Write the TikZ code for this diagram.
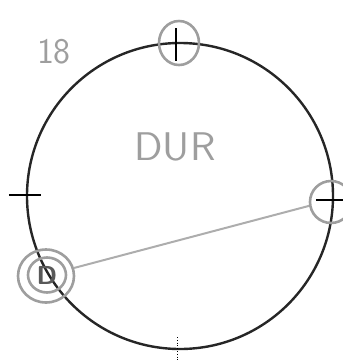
\documentclass[tikz,border=0pt]{standalone}
\usepackage{fontspec}
\usepackage{tikz}
\usetikzlibrary{positioning,shapes.geometric}
\definecolor{pencil}{gray}{0.62}

\begin{document}
\begin{tikzpicture}[x=1pt, y=-1pt,
  dialbox/.style={draw=black!85, circle, line width=2.4pt, minimum size=306pt, inner sep=0pt},
  ring/.style={draw=pencil, line width=2.6pt, ellipse, inner sep=0pt},
  tickmark/.style={line width=1.4pt},
  lbl/.style={text=pencil, font=\sffamily\fontsize{40}{42}\selectfont}]
\useasboundingbox (0,0) rectangle (343,360);
% dial and its four marks
\node[dialbox] (dial) at (180,196) {};
\draw[tickmark] (176,28) -- (176,61);
\draw[tickmark] (9,195) -- (41,195);
\draw[tickmark] (316,200) -- (343,200);
\draw[line width=0.8pt, dotted] (177,337) -- (177,360);
% rings round the marks
\node[ring, minimum width=40pt, minimum height=44pt] (top) at (179,43) {};
\node[ring, minimum width=42pt, minimum height=42pt] (rgt) at (331,202) {};
\node[ring, minimum width=56pt, minimum height=53pt] (outer) at (46,276) {};
\node[ring, minimum width=38pt, minimum height=35pt, text=black!65,
  font=\sffamily\bfseries\fontsize{26}{28}\selectfont] (inner) at (47,275) {D};
\draw[pencil!85, line width=2pt] (outer.16) -- (rgt.190);
% labels
\node[lbl, font=\sffamily\fontsize{36}{38}\selectfont] (num) at (54,52) {18};
\node[lbl, xscale=1.05] (dur) at (175,147) {DUR};
\end{tikzpicture}
\end{document}
